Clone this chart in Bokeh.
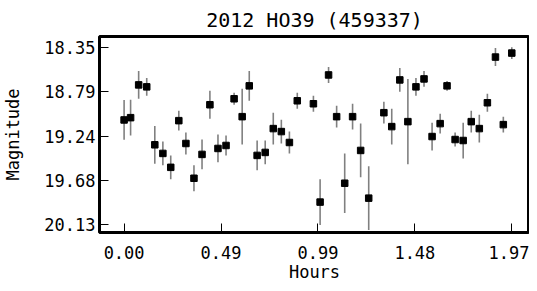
from bokeh.plotting import figure
from bokeh.models import FixedTicker, Range1d, ColumnDataSource, Title
from bokeh.embed import file_html
from bokeh.resources import INLINE

title_text = "2012 HO39 (459337)"
x_label = "Hours"
y_label = "Magnitude"

hours = [0.000, 0.033, 0.074, 0.115, 0.156, 0.197, 0.237, 0.278, 0.314, 0.355,
         0.396, 0.436, 0.477, 0.518, 0.559, 0.600, 0.636, 0.676, 0.717, 0.758,
         0.799, 0.840, 0.880, 0.962, 0.996, 1.039, 1.080, 1.121, 1.161, 1.202,
         1.243, 1.320, 1.360, 1.401, 1.442, 1.483, 1.524, 1.565, 1.606, 1.641,
         1.682, 1.723, 1.764, 1.805, 1.846, 1.887, 1.927, 1.970]
mag = [19.077, 19.054, 18.724, 18.744, 19.327, 19.414, 19.554, 19.084, 19.314, 19.664,
       19.424, 18.924, 19.364, 19.334, 18.864, 19.044, 18.734, 19.434, 19.404, 19.164,
       19.194, 19.304, 18.884, 18.914, 19.904, 18.624, 19.044, 19.714, 19.044, 19.384,
       19.864, 19.004, 19.144, 18.674, 19.094, 18.744, 18.664, 19.244, 19.114, 18.734,
       19.274, 19.284, 19.094, 19.164, 18.904, 18.444, 19.124, 18.404]
err = [0.20, 0.18, 0.14, 0.09, 0.19, 0.12, 0.12, 0.10, 0.11, 0.13,
       0.15, 0.14, 0.14, 0.10, 0.06, 0.28, 0.15, 0.15, 0.12, 0.16,
       0.12, 0.11, 0.08, 0.08, 0.23, 0.08, 0.11, 0.30, 0.13, 0.27,
       0.32, 0.11, 0.18, 0.12, 0.43, 0.09, 0.08, 0.14, 0.10, 0.05,
       0.07, 0.18, 0.11, 0.14, 0.09, 0.09, 0.08, 0.06]

x_ticks = [0.0, 0.4925, 0.985, 1.4775, 1.97]
x_tick_labels = ["0.00", "0.49", "0.99", "1.48", "1.97"]
y_ticks = [18.35, 18.795, 19.24, 19.685, 20.13]
y_tick_labels = ["18.35", "18.79", "19.24", "19.68", "20.13"]

src = ColumnDataSource(dict(
    x=hours, y=mag,
    lo=[m - e for m, e in zip(mag, err)],
    hi=[m + e for m, e in zip(mag, err)],
))

FONT = "DejaVu Sans Mono"

p = figure(width=529, height=283, output_backend="svg", toolbar_location=None,
           x_range=Range1d(-0.125, 2.06), y_range=Range1d(20.21, 18.237),
           title=title_text, min_border_left=94, min_border_right=0,
           min_border_top=28, min_border_bottom=20)

p.segment(x0="x", y0="lo", x1="x", y1="hi", source=src,
          line_color="#808080", line_width=1.6)
p.scatter(x="x", y="y", source=src, marker="square", size=6.5,
          fill_color="black", line_color="black")

p.title.text_font = FONT
p.title.text_font_size = "20px"
p.title.text_font_style = "normal"
p.title.text_color = "black"
p.title.align = "center"

p.xgrid.visible = False
p.ygrid.visible = False
p.outline_line_color = "black"
p.outline_line_width = 3
p.outline_line_alpha = 1.0

for ax in (p.xaxis[0], p.yaxis[0]):
    ax.axis_line_color = None
    ax.major_tick_in = 9
    ax.major_tick_out = 0
    ax.major_tick_line_color = "black"
    ax.major_tick_line_width = 1
    ax.minor_tick_line_color = None
    ax.major_label_text_font = FONT
    ax.major_label_text_font_size = "17px"
    ax.major_label_text_color = "black"
    ax.axis_label_text_font = FONT
    ax.axis_label_text_font_size = "17px"
    ax.axis_label_text_font_style = "normal"
    ax.axis_label_text_color = "black"

p.xaxis.ticker = FixedTicker(ticks=x_ticks)
p.xaxis.major_label_overrides = dict(zip(x_ticks, x_tick_labels))
p.yaxis.ticker = FixedTicker(ticks=y_ticks)
p.yaxis.major_label_overrides = dict(zip(y_ticks, y_tick_labels))
p.yaxis.axis_label = y_label
p.xaxis.major_label_standoff = 13
p.yaxis.major_label_standoff = 4
p.yaxis.axis_label_standoff = 18

# x-axis title as a bottom title
p.add_layout(Title(text=x_label, align="center", vertical_align="top",
                   text_font=FONT, text_font_size="17px",
                   text_font_style="normal", text_color="black",
                   standoff=0), "below")

open("out.html", "w").write(file_html(p, INLINE))
